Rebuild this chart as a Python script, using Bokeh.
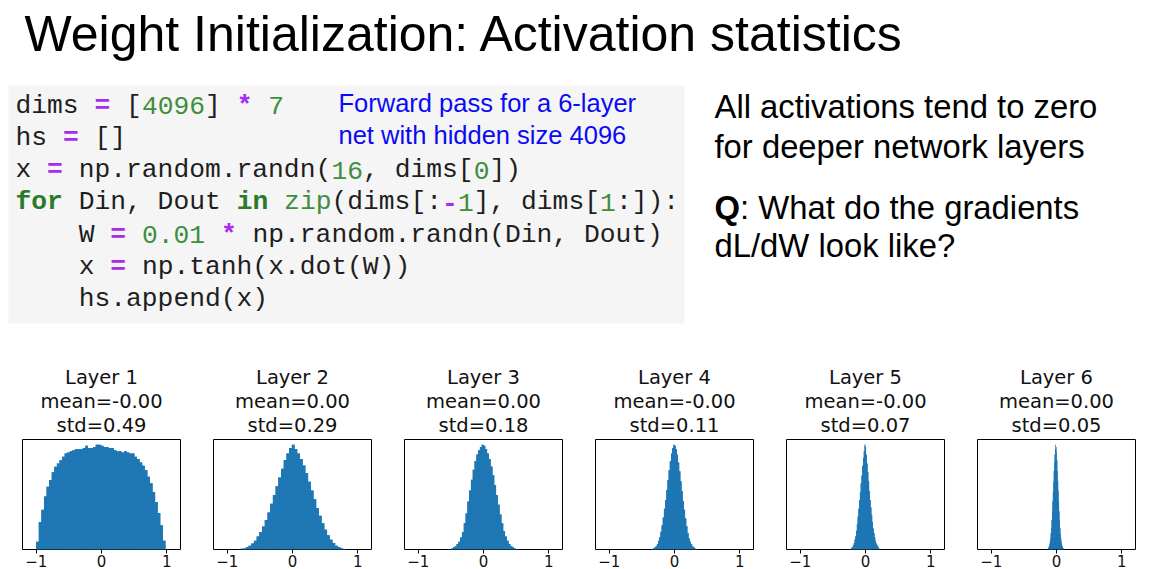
import numpy as np
from bokeh.plotting import figure
from bokeh.layouts import column, row
from bokeh.models import Range1d, FixedTicker
from bokeh.core.properties import value
from bokeh.embed import file_html
from bokeh.resources import INLINE

# ---------------- data ----------------
TITLE = "Weight Initialization: Activation statistics"

# code listing as (token, kind) pairs
CODE_LINES = [
    [("dims", "plain"), (" ", "plain"), ("=", "op"), (" [", "plain"), ("4096", "num"),
     ("] ", "plain"), ("*", "op"), (" ", "plain"), ("7", "num")],
    [("hs ", "plain"), ("=", "op"), (" []", "plain")],
    [("x ", "plain"), ("=", "op"), (" np.random.randn(", "plain"), ("16", "num"),
     (", dims[", "plain"), ("0", "num"), ("])", "plain")],
    [("for", "kw"), (" Din, Dout ", "plain"), ("in", "kw"), (" ", "plain"), ("zip", "bi"),
     ("(dims[:", "plain"), ("-", "op"), ("1", "num"), ("], dims[", "plain"), ("1", "num"),
     (":]):", "plain")],
    [("    W ", "plain"), ("=", "op"), (" ", "plain"), ("0.01", "num"), (" ", "plain"),
     ("*", "op"), (" np.random.randn(Din, Dout)", "plain")],
    [("    x ", "plain"), ("=", "op"), (" np.tanh(x.dot(W))", "plain")],
    [("    hs.append(x)", "plain")],
]
NOTE_LINES = ["Forward pass for a 6-layer", "net with hidden size 4096"]
SIDE_LINES = ["All activations tend to zero", "for deeper network layers"]
Q_MARK = "Q"
Q_LINES = [": What do the gradients", "dL/dW look like?"]

LAYER_NAMES = ["Layer 1", "Layer 2", "Layer 3", "Layer 4", "Layer 5", "Layer 6"]
LAYER_MEANS = ["-0.00", "0.00", "0.00", "-0.00", "-0.00", "0.00"]
LAYER_STDS = ["0.49", "0.29", "0.18", "0.11", "0.07", "0.05"]

# histogram bin ranges (data min / max of each layer) and bin counts (relative)
BIN_LO = [-1.00, -0.84, -0.55, -0.36, -0.25, -0.15]
BIN_HI = [0.98, 0.82, 0.55, 0.36, 0.22, 0.12]

COUNTS_L1 = [7, 25, 36, 48, 57, 63, 70, 75, 78, 81,
             84, 87, 88, 89, 90, 91, 91, 91, 92, 94,
             92, 92, 93, 95, 95, 94, 93, 93, 92, 92,
             90, 89, 89, 88, 89, 88, 87, 87, 84, 82,
             79, 76, 72, 66, 60, 52, 43, 33, 22, 8]
COUNTS_L2 = [0.3, 0.6, 1, 2, 3.5, 5.5, 8, 12, 16, 21,
             27, 34, 42, 50, 58, 66, 74, 82, 88, 93,
             96, 92, 88, 83, 77, 70, 62, 54, 46, 38,
             31, 24, 18, 13, 9, 6, 3.5, 2, 1, 0.4]
COUNTS_L3 = [0.2, 0.5, 1, 2, 3, 5, 7, 11, 16, 24,
             33, 44, 54, 64, 73, 81, 87, 91, 94, 96,
             95, 92, 88, 83, 76, 68, 59, 50, 41, 32,
             24, 17, 12, 8, 5, 3, 2, 1, 0.5, 0.2]
COUNTS_L4 = [0.3, 0.6, 1, 2, 3, 5, 8, 11, 16, 22,
             29, 37, 45, 54, 63, 72, 80, 87, 92, 95,
             94, 91, 86, 79, 71, 62, 53, 44, 36, 28,
             21, 15, 10, 7, 5, 3, 2, 1, 0.5, 0.2]
COUNTS_L5 = [0.3, 0.5, 1, 1.5, 2.5, 4, 6, 9, 12, 17,
             23, 30, 37, 45, 52, 60, 67, 76, 83, 89,
             95, 93, 86, 78, 70, 62, 53, 45, 38, 31,
             25, 19, 15, 11, 8, 5.5, 4, 2.5, 1.5, 0.6]
COUNTS_L6 = [0.3, 0.5, 0.8, 1.2, 2, 3, 4.5, 7, 10, 15,
             20, 27, 35, 44, 53, 62, 72, 80, 87, 92,
             96, 94, 89, 82, 72, 63, 54, 44, 35, 27,
             20, 14, 10, 7, 4.5, 3, 2, 1.2, 0.7, 0.3]
LAYER_COUNTS = [COUNTS_L1, COUNTS_L2, COUNTS_L3, COUNTS_L4, COUNTS_L5, COUNTS_L6]

X_TICKS = [-1, 0, 1]
X_TICK_LABELS = ["\u22121", "0", "1"]

# ---------------- layout / style ----------------
W, H = 1161, 569
HEAD_H = 437
PANEL_W = 191
FRAME_L = 22
FRAME_W = 158
X_LIM = 1.21

CODE_X0, CODE_Y0, CODE_DY, CODE_CW = 15, 105, 32.3, 15.8
CODE_FONT_SIZE = "26.3px"
CODE_STYLE = {
    "plain": ("#1e1e1e", "normal"),
    "op": ("#a52cf0", "bold"),
    "num": ("#3e8e3e", "normal"),
    "kw": ("#2a7a2a", "bold"),
    "bi": ("#3e8e3e", "normal"),
}
SANS = value("Liberation Sans")
MPL = value("DejaVu Sans")
BAR_COLOR = "#1f77b4"
SIDE_SIZE = 32.8

head = figure(width=W, height=HEAD_H, x_range=Range1d(0, W), y_range=Range1d(HEAD_H, 0),
              output_backend="svg", toolbar_location=None,
              x_axis_location=None, y_axis_location=None, min_border=0,
              outline_line_color=None, background_fill_color="white",
              border_fill_color="white")
head.grid.visible = False

# title
head.text(x=[24], y=[33], text=[TITLE], text_font=SANS, text_font_size="50px",
          text_color="black", text_baseline="alphabetic", text_align="left")

# code block background
head.quad(left=[8], right=[684], top=[85], bottom=[323], fill_color="#f5f5f5", line_color=None)

# code tokens
groups = {k: {"x": [], "y": [], "text": []} for k in CODE_STYLE}
for li, toks in enumerate(CODE_LINES):
    col = 0
    for tok, kind in toks:
        stripped = tok.lstrip(" ")
        lead = len(tok) - len(stripped)
        stripped = stripped.rstrip(" ")
        if stripped:
            groups[kind]["x"].append(CODE_X0 + (col + lead) * CODE_CW)
            groups[kind]["y"].append(CODE_Y0 + li * CODE_DY)
            groups[kind]["text"].append(stripped)
        col += len(tok)
for kind, g in groups.items():
    if not g["text"]:
        continue
    color, style = CODE_STYLE[kind]
    head.text(x=g["x"], y=g["y"], text=g["text"], text_font=value("Liberation Mono"),
              text_font_size=CODE_FONT_SIZE, text_font_style=style, text_color=color,
              text_baseline="alphabetic", text_align="left")

# blue note
head.text(x=[338, 338], y=[102, 134], text=NOTE_LINES, text_font=SANS, text_font_size="25.5px",
          text_color="#0a0af5", text_baseline="alphabetic", text_align="left")

# right side text
head.text(x=[714, 714], y=[106, 146], text=SIDE_LINES, text_font=SANS,
          text_font_size=f"{SIDE_SIZE}px",
          text_color="black", text_baseline="alphabetic", text_align="left")
head.text(x=[714], y=[207], text=[Q_MARK], text_font=SANS, text_font_size=f"{SIDE_SIZE}px",
          text_font_style="bold", text_color="black", text_baseline="alphabetic", text_align="left")
head.text(x=[714 + 0.778 * SIDE_SIZE, 714], y=[207, 245], text=Q_LINES, text_font=SANS,
          text_font_size=f"{SIDE_SIZE}px",
          text_color="black", text_baseline="alphabetic", text_align="left")

# histogram titles
tx, ty, tt = [], [], []
for i in range(len(LAYER_NAMES)):
    cx = FRAME_L + FRAME_W / 2 + PANEL_W * i
    for j, s in enumerate([LAYER_NAMES[i], "mean=" + LAYER_MEANS[i], "std=" + LAYER_STDS[i]]):
        tx.append(cx)
        ty.append(377 + 24 * j)
        tt.append(s)
head.text(x=tx, y=ty, text=tt, text_font=MPL, text_font_size="19.5px", text_color="#111111",
          text_baseline="alphabetic", text_align="center")

# histograms
hists = []
for i, counts in enumerate(LAYER_COUNTS):
    counts = np.asarray(counts, dtype=float)
    f = figure(width=PANEL_W, height=H - HEAD_H,
               x_range=Range1d(-X_LIM, X_LIM), y_range=Range1d(0, counts.max() * 1.05),
               output_backend="svg", toolbar_location=None, y_axis_location=None,
               min_border_left=FRAME_L, min_border_right=PANEL_W - FRAME_L - FRAME_W,
               min_border_top=2, min_border_bottom=0,
               outline_line_color="black", outline_line_width=1,
               background_fill_color="white", border_fill_color="white")
    f.grid.visible = False
    edges = np.linspace(BIN_LO[i], BIN_HI[i], len(counts) + 1)
    # continuous step fill underneath to avoid seams between adjacent bars
    f.varea_step(x=edges, y1=np.zeros(len(edges)), y2=np.append(counts, counts[-1]),
                 step_mode="after", fill_color=BAR_COLOR)
    f.quad(left=edges[:-1], right=edges[1:], bottom=0, top=counts,
           fill_color=BAR_COLOR, line_color=None)
    ax = f.xaxis[0]
    ax.ticker = FixedTicker(ticks=X_TICKS)
    ax.major_label_overrides = dict(zip(X_TICKS, X_TICK_LABELS))
    ax.minor_tick_line_color = None
    ax.major_tick_out = 4
    ax.major_tick_in = 0
    ax.major_tick_line_color = "black"
    ax.axis_line_color = None
    ax.major_label_standoff = 1
    ax.major_label_text_font = "DejaVu Sans"
    ax.major_label_text_font_size = "15px"
    ax.major_label_text_color = "#111111"
    hists.append(f)

layout = column(head, row(*hists))
open("out.html", "w").write(file_html(layout, INLINE))
